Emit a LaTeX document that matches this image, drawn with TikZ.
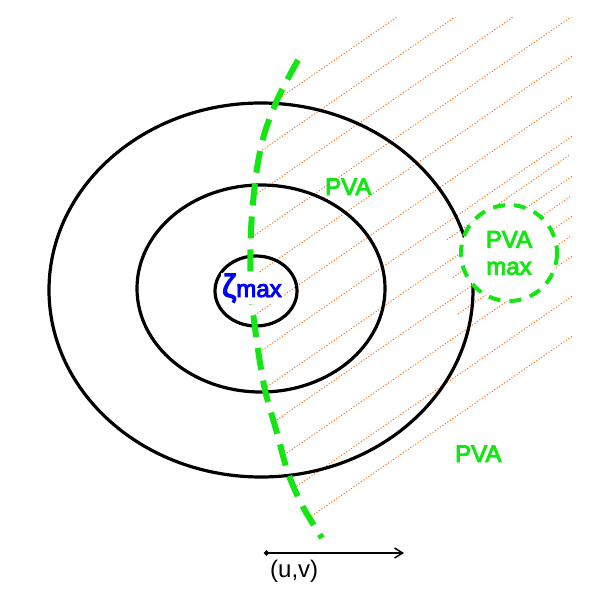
\documentclass[tikz,border=0pt]{standalone}
\usepackage{fontspec}
\setmainfont{Liberation Sans}
\newfontfamily\thickfont{Liberation Sans}[FakeBold=4]
\usetikzlibrary{arrows.meta}

\definecolor{limegreen}{RGB}{20,230,20}
\definecolor{hatchorange}{RGB}{255,102,0}

\begin{document}
\begin{tikzpicture}[x=1pt,y=-1pt,
        contour/.style={line width=3.2pt,black},
        front/.style={line width=6pt,limegreen,dash pattern=on 22pt off 11pt},
        hatchline/.style={line width=1pt,hatchorange,dash pattern=on 1pt off 2pt},
        bigtext/.style={font=\thickfont\fontsize{24}{27}\selectfont,inner sep=0pt}]
    \useasboundingbox (0,0) rectangle (600,600);
    % hatching east of the front
    \begin{scope}
        \clip (298,17) -- plot[smooth] coordinates {(298,60) (278,98) (264,135) (256,175) (251,230) (251,290) (257,343) (265,390) (277,433) (288,473) (303,507) (322,538)} -- (572,538) -- (572,17) -- cycle;
        \foreach \c in {291,331,...,731}
            \draw[hatchline] (240,\c-165.6) -- (580,\c-400.2);
    \end{scope}
    \foreach \c/\s in {548/447,590/453,630/458}
        \draw[hatchline] (\s,\c-0.69*\s) -- (570,\c-393.3);
    % contours
    \draw[contour] (261,290) ellipse [x radius=212, y radius=187];
    \draw[contour] (261,288.5) ellipse [x radius=124, y radius=103.5];
    \draw[contour] (256,291) ellipse [x radius=41, y radius=35];
    % front
    \draw[front] plot[smooth] coordinates {(298,60) (278,98) (264,135) (256,175) (251,230) (251,290) (257,343) (265,390) (277,433) (288,473) (303,507) (322,538)};
    \draw[line width=4pt,limegreen,dash pattern=on 12pt off 9pt,fill=white] (509,253) circle [radius=48];
    % labels
    \node[bigtext,limegreen,anchor=base west] (pvanorth) at (325,195) {PVA};
    \node[bigtext,limegreen,anchor=base west] (pvasouth) at (455,462) {PVA};
    \node[bigtext,limegreen,align=center] (pvamax) at (509,253) {PVA\\max};
    \node[bigtext,blue,fill=white,inner sep=1pt,anchor=base west] (zetamax) at (221,297) {{\fontsize{32}{32}\selectfont ζ}max};
    % steering flow
    \coordinate (uvtail) at (264,553);
    \coordinate (uvhead) at (404,553);
    \draw[line width=1.5pt,{Circle[length=5pt]}-{Straight Barb[length=8pt,width=10pt]}] (uvtail) -- (uvhead);
    \node[font=\fontsize{24}{27}\selectfont,inner sep=0pt,anchor=base west] (uvlabel) at (270,577) {(u,v)};
\end{tikzpicture}
\end{document}
